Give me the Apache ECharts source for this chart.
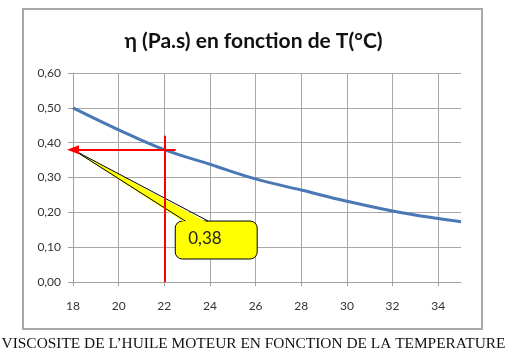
<!DOCTYPE html>
<html>
<head>
<meta charset="utf-8">
<script src="https://cdn.jsdelivr.net/npm/echarts@6/dist/echarts.min.js"></script>
<style>
html,body{margin:0;padding:0;background:#fff;}
#c{width:507px;height:364px;}
</style>
</head>
<body>
<div id="c"></div>
<script>
// Data
var temperatures = [18, 20, 22, 24, 26, 28, 30, 32, 34, 35];
var viscosity = [0.50, 0.437, 0.38, 0.338, 0.296, 0.264, 0.232, 0.204, 0.182, 0.173];
var xTicks = [18, 20, 22, 24, 26, 28, 30, 32, 34];
var yTicks = [0, 0.1, 0.2, 0.3, 0.4, 0.5, 0.6];
var readTemp = 22;
var readValue = 0.38;
var readTop = 0.42;        // top of the red vertical line
var arrowStart = 22.5;     // right end of the red horizontal arrow
var calloutLabel = '0,38';
// callout box corners [x, y] in data units, pointer base and tip
var calloutBox = [[22.48, 0.175], [26.07, 0.066]];
var calloutBase = [[22.92, 0.175], [23.92, 0.175]];
var calloutTip = [18.02, 0.379];
var calloutText = [23.05, 0.126];

var chart = echarts.init(document.getElementById('c'));
var FONT = 'Lato, "Open Sans", sans-serif';

function fmt(v) { return v.toFixed(2).replace('.', ','); }

var option = {
  animation: false,
  backgroundColor: '#ffffff',
  title: {
    text: 'η (Pa.s) en fonction de T(°C)',
    left: 'center',
    top: 26,
    textStyle: { fontFamily: FONT, fontSize: 21, fontWeight: 'bold', color: '#111' }
  },
  graphic: [
    {
      type: 'rect', shape: { x: 23, y: 9, width: 459, height: 320 },
      style: { fill: 'none', stroke: '#a8a8a8', lineWidth: 2 }, z: -1
    },
    {
      type: 'text', left: 'center', top: 336,
      style: {
        text: "VISCOSITE DE L’HUILE MOTEUR EN FONCTION DE LA TEMPERATURE",
        font: '15.4px "Liberation Serif", "Times New Roman", serif', fill: '#111'
      }
    }
  ],
  grid: { left: 73, right: 46, top: 73, bottom: 82, containLabel: false },
  xAxis: {
    type: 'value', min: xTicks[0], max: temperatures[temperatures.length - 1], interval: 2,
    axisLine: { show: true, lineStyle: { color: '#a0a0a0', width: 1 } },
    axisTick: { show: true, length: 4, lineStyle: { color: '#a0a0a0' } },
    axisLabel: {
      showMaxLabel: false, margin: 18,
      fontFamily: FONT, fontSize: 12, color: '#333',
      formatter: function (v) { return xTicks.indexOf(v) >= 0 ? String(v) : ''; }
    },
    splitLine: { show: true, showMaxLine: false, lineStyle: { color: '#a8a8a8', width: 1 } }
  },
  yAxis: {
    type: 'value', min: yTicks[0], max: yTicks[yTicks.length - 1], interval: 0.1,
    axisLine: { show: true, lineStyle: { color: '#a0a0a0', width: 1 } },
    axisTick: { show: true, length: 5, lineStyle: { color: '#a0a0a0' } },
    axisLabel: { fontFamily: FONT, fontSize: 12, color: '#333', margin: 12, formatter: fmt },
    splitLine: { show: true, lineStyle: { color: '#a8a8a8', width: 1 } }
  },
  series: [
    {
      type: 'line',
      data: temperatures.map(function (t, i) { return [t, viscosity[i]]; }),
      smooth: 0.4,
      symbol: 'none',
      lineStyle: { color: '#4a78b4', width: 3 },
      z: 3
    },
    {
      type: 'line', data: [], symbol: 'none', z: 6,
      markLine: {
        silent: true, animation: false, z: 6,
        label: { show: false },
        data: [
          [
            { coord: [readTemp, 0], symbol: 'none' },
            { coord: [readTemp, readTop], symbol: 'none' }
          ],
          [
            { coord: [arrowStart, readValue], symbol: 'none' },
            { coord: [temperatures[0], readValue], symbol: 'triangle', symbolSize: [9, 12] }
          ]
        ],
        lineStyle: { color: '#ff0000', width: 2, type: 'solid' },
        itemStyle: { color: '#ff0000' }
      }
    },
    {
      type: 'custom', z: 4,
      data: [[0]],
      renderItem: function (params, api) {
        var p1 = api.coord(calloutBox[0]);
        var p2 = api.coord(calloutBox[1]);
        var b1 = api.coord(calloutBase[0]);
        var b2 = api.coord(calloutBase[1]);
        var tip = api.coord(calloutTip);
        var tp = api.coord(calloutText);
        return {
          type: 'group',
          children: [
            {
              type: 'rect',
              shape: { x: p1[0], y: p1[1], width: p2[0] - p1[0], height: p2[1] - p1[1], r: 7 },
              style: { fill: '#ffff00', stroke: '#000', lineWidth: 1 }
            },
            {
              type: 'polygon',
              shape: { points: [[b1[0], b1[1] + 2], tip, [b2[0], b2[1] + 2]] },
              style: { fill: '#ffff00', stroke: null }
            },
            {
              type: 'polyline',
              shape: { points: [b1, tip, b2] },
              style: { fill: null, stroke: '#000', lineWidth: 1 }
            },
            {
              type: 'text',
              x: tp[0], y: tp[1],
              style: {
                text: calloutLabel, fill: '#222',
                font: '17px ' + FONT, verticalAlign: 'middle', align: 'left'
              }
            }
          ]
        };
      }
    }
  ]
};
chart.setOption(option);
</script>
</body>
</html>
